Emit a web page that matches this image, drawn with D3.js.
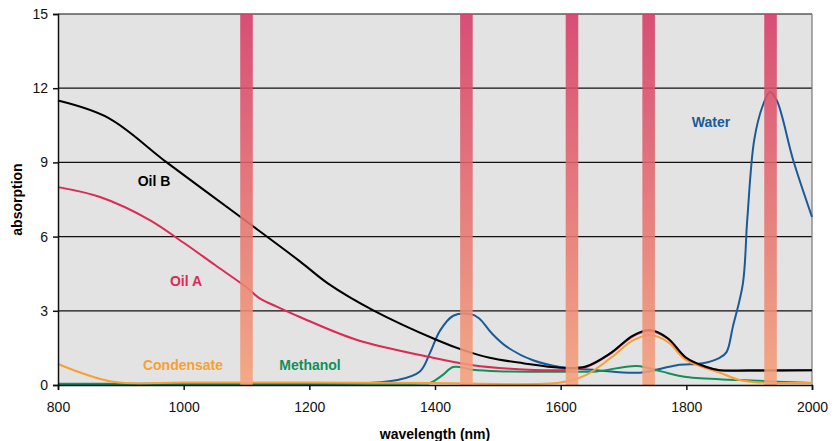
<!DOCTYPE html>
<html lang="en">
<head>
    <meta charset="UTF-8">
    <title>Absorption spectra</title>
    <script src="https://d3js.org/d3.v7.min.js"></script>
    <style>
        body { margin: 0; background: #fff; }
        svg { font-family: "Liberation Sans", Arial, sans-serif; }
        .tick text { font-size: 14px; fill: #111; }
        .axis-title { font-size: 14px; font-weight: bold; }
        .series-label { font-size: 14px; font-weight: bold; }
    </style>
</head>
<body>
    <svg></svg>
    <script>
        // Data (wavelength nm, absorption)
        const xTicks = [800, 1000, 1200, 1400, 1600, 1800, 2000];
        const yTicks = [0, 3, 6, 9, 12, 15];
        const bandCenters = [1100, 1450, 1618, 1740, 1934];

        const oilB = [[800, 11.5], [880, 10.8], [973, 9.0], [1090, 6.8], [1185, 5.0], [1230, 4.1], [1301, 3.03],
            [1403, 1.82], [1445, 1.41], [1487, 1.1], [1540, 0.88], [1599, 0.7], [1640, 0.75], [1680, 1.3],
            [1715, 2.0], [1742, 2.22], [1770, 1.9], [1800, 1.1], [1830, 0.75], [1853, 0.6], [1900, 0.6], [2000, 0.6]];
        const oilA = [[800, 8.0], [867, 7.6], [946, 6.67], [1000, 5.75], [1050, 4.85], [1100, 3.95], [1121, 3.5],
            [1150, 3.15], [1185, 2.75], [1276, 1.82], [1392, 1.13], [1460, 0.8], [1520, 0.66], [1600, 0.6], [1640, 0.72],
            [1680, 1.28], [1715, 1.97], [1742, 2.18], [1770, 1.88], [1800, 1.08], [1830, 0.73], [1853, 0.6], [2000, 0.6]];
        const condensate = [[800, 0.85], [888, 0.13], [1000, 0.1], [1200, 0.1], [1400, 0.08], [1600, 0.1],
            [1640, 0.4], [1680, 1.1], [1715, 1.8], [1742, 2.02], [1770, 1.75], [1800, 1.0], [1853, 0.5],
            [1885, 0.2], [1920, 0.1], [2000, 0.08]];
        const methanol = [[800, 0.05], [1000, 0.05], [1200, 0.06], [1380, 0.06], [1392, 0.08], [1412, 0.4],
            [1429, 0.73], [1460, 0.62], [1500, 0.56], [1620, 0.54], [1657, 0.55], [1721, 0.77], [1760, 0.55],
            [1800, 0.32], [1885, 0.2], [2000, 0.08]];
        const water = [[800, 0.02], [1100, 0.03], [1291, 0.08], [1340, 0.2], [1376, 0.55], [1392, 1.3], [1408, 2.2],
            [1429, 2.8], [1456, 2.87], [1470, 2.7], [1490, 2.1], [1514, 1.55], [1556, 1.0], [1599, 0.73],
            [1657, 0.6], [1726, 0.5], [1785, 0.8], [1826, 0.88], [1853, 1.1], [1864, 1.33], [1874, 2.35],
            [1890, 4.1], [1897, 6.7], [1908, 9.9], [1921, 11.25], [1933, 11.85], [1944, 11.5], [1970, 9.1], [2000, 6.8]];

        const series = [
            { name: "Water", values: water, color: "#1b5a97", lx: 711, ly: 122 },
            { name: "Methanol", values: methanol, color: "#0f9159", lx: 310, ly: 365 },
            { name: "Condensate", values: condensate, color: "#f7a033", lx: 183, ly: 365 },
            { name: "Oil A", values: oilA, color: "#dc2a52", lx: 186, ly: 281 },
            { name: "Oil B", values: oilB, color: "#000000", lx: 154, ly: 181 }
        ];

        const width = 836, height = 441;
        const margin = { top: 14, right: 24, bottom: 56, left: 58 };
        const svg = d3.select("svg").attr("width", width).attr("height", height);

        const x = d3.scaleLinear().domain([800, 2000]).range([margin.left, width - margin.right]);
        const y = d3.scaleLinear().domain([0, 15]).range([height - margin.bottom, margin.top]);

        // gradient for the bands
        const grad = svg.append("defs").append("linearGradient")
            .attr("id", "bandGrad").attr("x1", 0).attr("y1", 0).attr("x2", 0).attr("y2", 1);
        grad.append("stop").attr("offset", "0%").attr("stop-color", "#d63a66");
        grad.append("stop").attr("offset", "100%").attr("stop-color", "#f5a27a");

        // plot background
        svg.append("rect")
            .attr("x", x(800)).attr("y", y(15))
            .attr("width", x(2000) - x(800)).attr("height", y(0) - y(15))
            .attr("fill", "#e3e3e3");

        // grid lines
        svg.append("g").selectAll("line")
            .data(yTicks.filter(d => d > 0))
            .enter().append("line")
            .attr("x1", x(800)).attr("x2", x(2000))
            .attr("y1", d => y(d)).attr("y2", d => y(d))
            .attr("stroke", "#111").attr("stroke-width", 1.2);

        // right border
        svg.append("line")
            .attr("x1", x(2000)).attr("x2", x(2000))
            .attr("y1", y(15)).attr("y2", y(0))
            .attr("stroke", "#777").attr("stroke-width", 1.2);

        // curves
        const line = d3.line()
            .x(d => x(d[0]))
            .y(d => y(d[1]))
            .curve(d3.curveCatmullRom.alpha(0.5));

        svg.append("g").selectAll("path")
            .data(series)
            .enter().append("path")
            .attr("d", d => line(d.values))
            .attr("fill", "none")
            .attr("stroke", d => d.color)
            .attr("stroke-width", 2);

        // absorption bands
        const bw = x(1110) - x(1090);
        svg.append("g").selectAll("rect")
            .data(bandCenters)
            .enter().append("rect")
            .attr("x", d => x(d) - bw / 2)
            .attr("y", y(15))
            .attr("width", bw)
            .attr("height", y(0) - y(15))
            .attr("fill", "url(#bandGrad)")
            .attr("opacity", 0.88);

        // axes
        svg.append("g")
            .attr("transform", `translate(0,${y(0)})`)
            .call(d3.axisBottom(x).tickValues(xTicks).tickSize(5).tickPadding(12).tickFormat(d3.format("d")))
            .call(g => g.selectAll("line, path").attr("stroke", "#111").attr("stroke-width", 1.5));

        svg.append("g")
            .attr("transform", `translate(${x(800)},0)`)
            .call(d3.axisLeft(y).tickValues(yTicks).tickSize(5).tickPadding(5))
            .call(g => g.selectAll("line, path").attr("stroke", "#111").attr("stroke-width", 1.5));

        // series labels
        svg.append("g").selectAll("text")
            .data(series)
            .enter().append("text")
            .attr("class", "series-label")
            .attr("x", d => d.lx)
            .attr("y", d => d.ly)
            .attr("dy", "0.35em")
            .attr("text-anchor", "middle")
            .attr("fill", d => d.color)
            .text(d => d.name);

        // axis titles
        svg.append("text")
            .attr("class", "axis-title")
            .attr("x", x(1400)).attr("y", 439)
            .attr("text-anchor", "middle")
            .text("wavelength (nm)");

        svg.append("text")
            .attr("class", "axis-title")
            .attr("transform", `translate(22,${(y(0) + y(15)) / 2}) rotate(-90)`)
            .attr("text-anchor", "middle")
            .text("absorption");
    </script>
</body>
</html>
